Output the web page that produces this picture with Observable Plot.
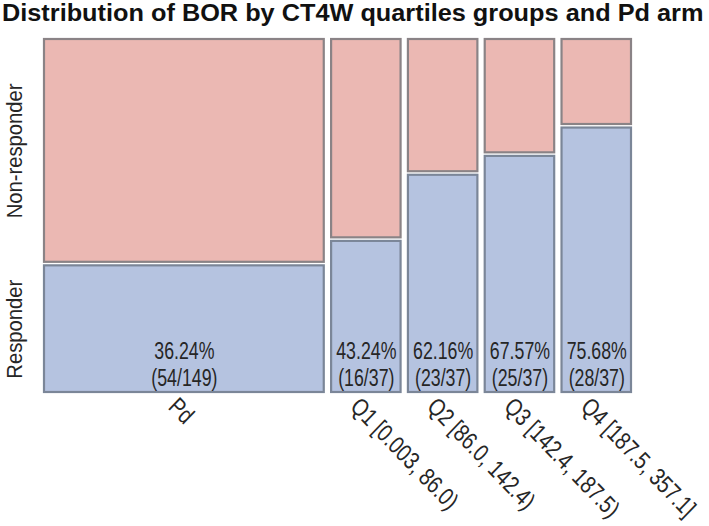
<!DOCTYPE html>
<html>
<head>
<meta charset="utf-8">
<script src="https://cdn.jsdelivr.net/npm/d3@7"></script>
<script src="https://cdn.jsdelivr.net/npm/@observablehq/plot@0.6"></script>
<style>
  body { margin: 0; background: #fff; }
  #title { box-sizing: border-box; height: 32px; padding-top: 1.5px; padding-left: 2px; overflow: visible; }
  #title span { display: inline-block; font-family: "Liberation Sans", Arial, sans-serif; font-weight: bold; font-size: 23px; line-height: 23px; color: #111; white-space: nowrap; transform: scaleX(1.1); transform-origin: 0 0; }
</style>
</head>
<body>
<div id="title"><span>Distribution of BOR by CT4W quartiles groups and Pd arm</span></div>
<div id="chart"></div>
<script>
// Data
const groups = ["Pd", "Q1 [0.003, 86.0)", "Q2 [86.0, 142.4)", "Q3 [142.4, 187.5)", "Q4 [187.5, 357.1]"];
const responders = [54, 16, 23, 25, 28];
const totals = [149, 37, 37, 37, 37];
const outcomes = ["Responder", "Non-responder"];

// Mosaic layout (proportions with gaps)
const gapX = 0.0125, gapY = 0.01;
const grand = d3.sum(totals);
const usable = 1 - gapX * (groups.length - 1);
let cursor = 0;
const cells = [];
const cols = [];
groups.forEach((g, i) => {
  const w = usable * totals[i] / grand;
  const x1 = cursor, x2 = cursor + w;
  const p = responders[i] / totals[i];
  const split = p * (1 - gapY);
  cells.push({group: g, outcome: "Responder", x1, x2, y1: 0, y2: split});
  cells.push({group: g, outcome: "Non-responder", x1, x2, y1: split + gapY, y2: 1});
  cols.push({group: g, x: (x1 + x2) / 2, p, label: `${(p * 100).toFixed(2)}%\n(${responders[i]}/${totals[i]})`, split});
  cursor = x2 + gapX;
});
const pd = cols[0];
const yTicks = [
  {label: outcomes[0], y: pd.split / 2},
  {label: outcomes[1], y: (pd.split + gapY + 1) / 2}
];

const fillColor = {"Responder": "#b5c3e0", "Non-responder": "#ebb8b3"};
const strokeColor = {"Responder": "#7b8698", "Non-responder": "#8a8386"};
const font = '"Liberation Sans", Arial, sans-serif';

const chart = Plot.plot({
  width: 709,
  height: 494,
  marginTop: 7,
  marginBottom: 134,
  marginLeft: 44,
  marginRight: 78,
  x: {domain: [0, 1], axis: null},
  y: {domain: [0, 1], axis: null},
  style: {fontFamily: font, fontSize: "21px", color: "#262626", background: "#fff"},
  marks: [
    Plot.rect(cells, {x1: "x1", x2: "x2", y1: "y1", y2: "y2", fill: d => fillColor[d.outcome], stroke: d => strokeColor[d.outcome], strokeWidth: 2.2}),
    Plot.text(cols, {x: "x", y: () => 0, text: "label", lineAnchor: "middle", lineHeight: 1.12, dy: -28.5, fill: "#262626", fontSize: 24}),
    Plot.text(cols, {x: "x", y: () => 0, text: "group", textAnchor: "start", lineAnchor: "top", dx: -5, dy: 3, fill: "#262626", fontSize: 24}),
    Plot.text(yTicks, {y: "y", text: "label", frameAnchor: "left", dx: -30, rotate: -90, textAnchor: "middle", lineAnchor: "middle", fill: "#262626", fontSize: 22})
  ]
});

// Narrow the texts along their run (condensed sans look); tilt the column labels
const textGroups = chart.querySelectorAll('g[aria-label="text"]');
const extra = [" scale(0.74,1)", " scale(1,1.04) rotate(45) scale(0.81,1)", " scale(0.92,1)"];
textGroups.forEach((g, gi) => {
  if (gi >= extra.length) return;
  g.querySelectorAll("text").forEach(t => {
    let tr = t.getAttribute("transform");
    if (!tr) {
      const x = +(t.getAttribute("x") || 0), y = +(t.getAttribute("y") || 0);
      t.removeAttribute("x"); t.removeAttribute("y");
      tr = `translate(${x},${y})`;
    }
    t.setAttribute("transform", tr + extra[gi]);
  });
});
document.getElementById("chart").appendChild(chart);
</script>
</body>
</html>
